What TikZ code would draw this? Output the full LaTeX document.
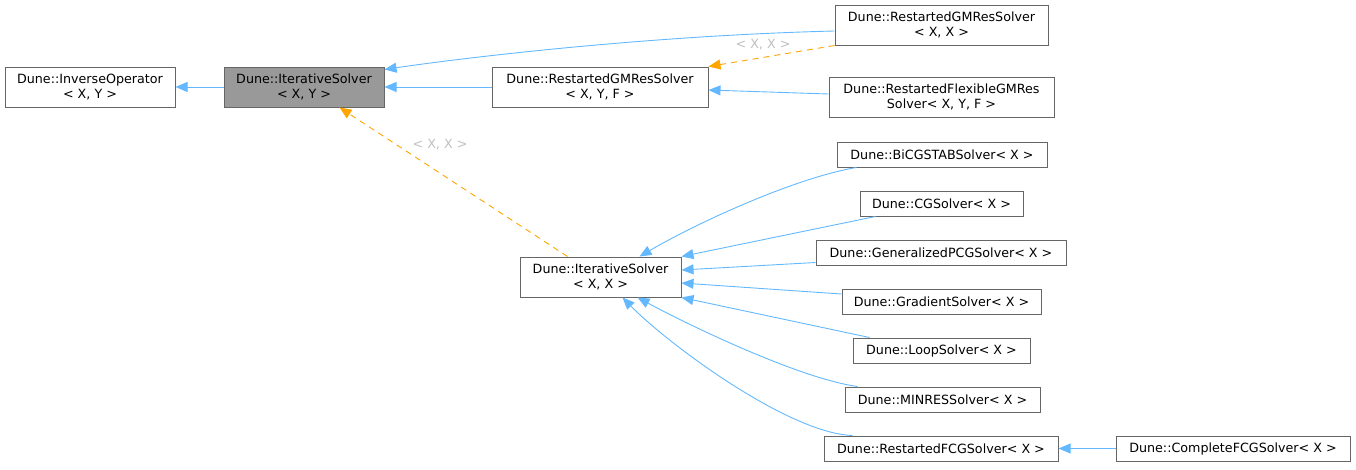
\documentclass[tikz,border=0pt]{standalone}
\usepackage{fontspec}
\setmainfont{DejaVu Sans}
\usetikzlibrary{arrows.meta,calc}
\definecolor{edgeblue}{HTML}{63B8FF}
\definecolor{edgeorange}{HTML}{FFA500}
\definecolor{boxline}{HTML}{666666}
\definecolor{boxgray}{HTML}{999999}
\definecolor{lblgray}{HTML}{BFBFBF}
\begin{document}
\begin{tikzpicture}[x=1pt,y=-1pt,
  font=\fontsize{12.7}{15}\selectfont,
  cls/.style={draw=boxline,line width=1pt,fill=white,inner sep=0pt,align=center,minimum height=40pt},
  cls1/.style={cls,minimum height=25pt},
  inh/.style={draw=edgeblue,line width=0.9pt,-{Triangle[length=12pt,width=10pt]}},
  tmpl/.style={draw=edgeorange,line width=0.9pt,dash pattern=on 6pt off 5pt,-{Triangle[length=12pt,width=10pt]}},
  lbl/.style={text=lblgray,inner sep=0pt}]
\useasboundingbox (0,0) rectangle (1356,469);
% nodes
\node[cls,minimum width=170pt] (inv) at (90,87) {Dune::InverseOperator\\< X, Y >};
\node[cls,minimum width=160pt,fill=boxgray] (itxy) at (304,87) {Dune::IterativeSolver\\< X, Y >};
\node[cls,minimum width=216pt] (rgxyf) at (600,87) {Dune::RestartedGMResSolver\\< X, Y, F >};
\node[cls,minimum width=213pt] (rgxx) at (941.5,25) {Dune::RestartedGMResSolver\\< X, X >};
\node[cls,minimum width=225pt] (rfgm) at (941.5,97) {Dune::RestartedFlexibleGMRes\\Solver< X, Y, F >};
\node[cls,minimum width=161pt] (itxx) at (600.5,277) {Dune::IterativeSolver\\< X, X >};
\node[cls1,minimum width=210pt] (bicg) at (942,154.5) {Dune::BiCGSTABSolver< X >};
\node[cls1,minimum width=163pt] (cg) at (941.5,203.5) {Dune::CGSolver< X >};
\node[cls1,minimum width=250pt] (gpcg) at (941,252.5) {Dune::GeneralizedPCGSolver< X >};
\node[cls1,minimum width=199pt] (grad) at (941.5,301.5) {Dune::GradientSolver< X >};
\node[cls1,minimum width=177pt] (loop) at (941.5,350.5) {Dune::LoopSolver< X >};
\node[cls1,minimum width=195pt] (minres) at (942.5,399.5) {Dune::MINRESSolver< X >};
\node[cls1,minimum width=234pt] (rfcg) at (941,448.5) {Dune::RestartedFCGSolver< X >};
\node[cls1,minimum width=234pt] (cfcg) at (1233,448.5) {Dune::CompleteFCGSolver< X >};
% edges
\draw[inh] (itxy.west) -- (inv.east);
\draw[inh] (rgxyf.west) -- (itxy.east);
\draw[inh] ($(rgxx.west)+(0,6)$) .. controls +(-200,5) and +(60,-9) .. ($(itxy.north east)+(0,3)$);
\draw[tmpl] (rgxx.south west) -- (rgxyf.north east);
\node[lbl] (l1) at (763,45) {< X, X >};
\draw[inh] ($(rfgm.west)+(0,-3)$) -- ($(rgxyf.east)+(0,3)$);
\draw[tmpl] ($(itxx.north west)+(48,0)$) -- ($(itxy.south west)+(116,0)$);
\node[lbl] (l2) at (440,145) {< X, X >};
\draw[inh] ($(bicg.south west)+(20,0)$) .. controls +(-60,10) and +(60,-35) .. ($(itxx.north west)+(120,0)$);
\draw[inh] ($(cg.south west)+(16,0)$) -- (itxx.north east);
\draw[inh] ($(gpcg.south west)+(0,-3)$) -- ($(itxx.east)+(0,-7)$);
\draw[inh] ($(grad.west)+(0,-7.5)$) -- ($(itxx.east)+(0,6)$);
\draw[inh] ($(loop.north west)+(17,0)$) -- (itxx.south east);
\draw[inh] ($(minres.north west)+(13,0)$) .. controls +(-58,-8) and +(52,28) .. ($(itxx.south west)+(118,0)$);
\draw[inh] ($(rfcg.north west)+(29,0)$) .. controls +(-63,-2) and +(47,48) .. ($(itxx.south west)+(103,0)$);
\draw[inh] (cfcg.west) -- (rfcg.east);
\end{tikzpicture}
\end{document}
